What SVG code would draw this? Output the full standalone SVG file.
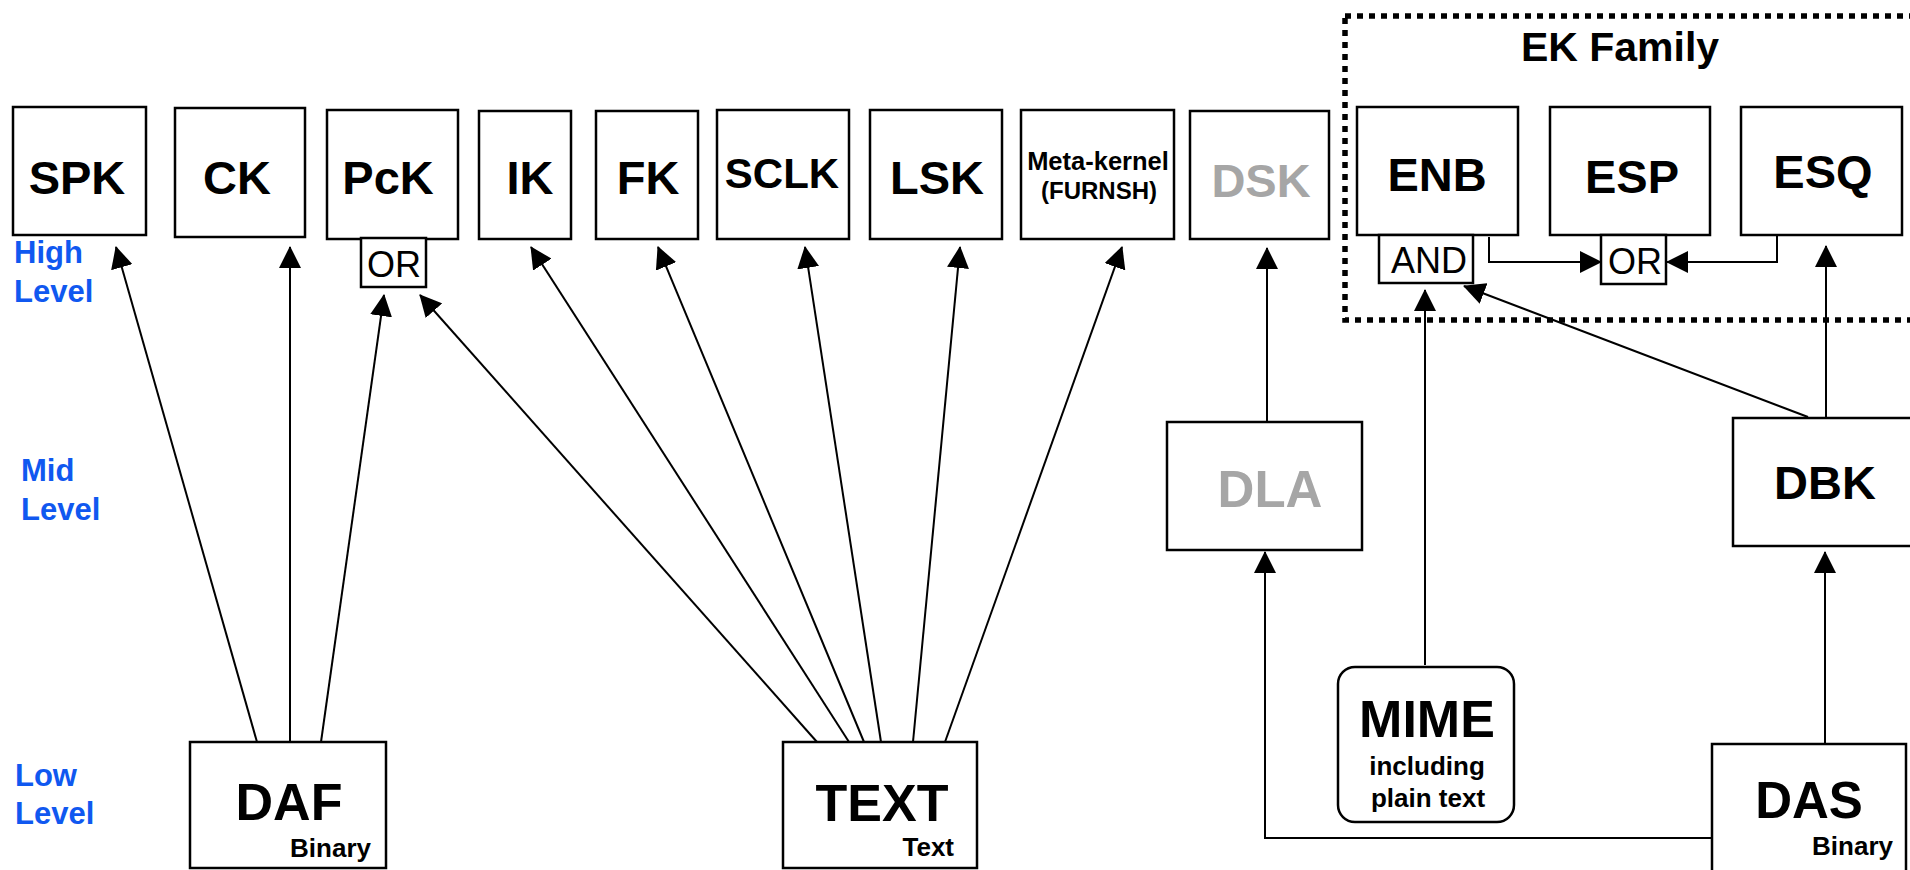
<svg xmlns="http://www.w3.org/2000/svg" width="1910" height="870" viewBox="0 0 1910 870">
<defs>
<marker id="arr" markerUnits="userSpaceOnUse" viewBox="0 0 22 22" refX="21" refY="11" markerWidth="22" markerHeight="22" orient="auto">
<path d="M0,0 L22,11 L0,22 z" fill="#000"/>
</marker>
<style>
text{font-family:"Liberation Sans",Arial,Helvetica,sans-serif;}
.box{fill:#fff;stroke:#000;stroke-width:2.5;}
.big{font-size:47px;font-weight:bold;text-anchor:middle;fill:#000;}
.low{font-size:52px;font-weight:bold;text-anchor:middle;fill:#000;}
.gray{fill:#a6a6a6;}
.sub{font-size:26px;font-weight:bold;text-anchor:end;fill:#000;}
.op{font-size:36px;text-anchor:middle;fill:#000;}
.lvl{font-size:31px;font-weight:bold;fill:#1058f0;}
.c{fill:none;stroke:#000;stroke-width:2;marker-end:url(#arr);}
.cn{fill:none;stroke:#000;stroke-width:2;}
</style>
</defs>
<rect width="1910" height="870" fill="#fff"/>

<g id="levels">
<text class="lvl" x="14" y="263">High</text>
<text class="lvl" x="14" y="302">Level</text>
<text class="lvl" x="21" y="481">Mid</text>
<text class="lvl" x="21" y="520">Level</text>
<text class="lvl" x="15" y="786">Low</text>
<text class="lvl" x="15" y="824">Level</text>
</g>

<g id="ek-family">
<rect x="1345" y="16" width="600" height="304" fill="none" stroke="#000" stroke-width="5.5" stroke-dasharray="6 6"/>
<text x="1620" y="61" style="font-size:41px;font-weight:bold;text-anchor:middle">EK Family</text>
</g>

<g id="connectors">
<line class="c" x1="257" y1="742" x2="116" y2="247"/>
<line class="c" x1="290" y1="742" x2="290" y2="247"/>
<line class="c" x1="321" y1="742" x2="384" y2="295"/>
<line class="c" x1="817" y1="742" x2="420" y2="295"/>
<line class="c" x1="849" y1="742" x2="531" y2="247"/>
<line class="c" x1="864" y1="742" x2="658" y2="247"/>
<line class="c" x1="881" y1="742" x2="805" y2="247"/>
<line class="c" x1="913" y1="742" x2="960" y2="247"/>
<line class="c" x1="945" y1="742" x2="1122" y2="247"/>
<line class="c" x1="1267" y1="422" x2="1267" y2="248"/>
<line class="c" x1="1425" y1="665" x2="1425" y2="290"/>
<line class="c" x1="1808" y1="417" x2="1464" y2="286"/>
<line class="c" x1="1826" y1="417" x2="1826" y2="246"/>
<line class="c" x1="1825" y1="743" x2="1825" y2="552"/>
<polyline class="c" points="1712,838 1265,838 1265,552"/>
<polyline class="c" points="1489,237 1489,262 1601,262"/>
<polyline class="c" points="1777,235 1777,262 1667,262"/>
</g>

<g id="node-spk"><rect class="box" x="13" y="107" width="133" height="128"/><text class="big" x="77" y="194">SPK</text></g>
<g id="node-ck"><rect class="box" x="175" y="108" width="130" height="129"/><text class="big" x="237" y="194">CK</text></g>
<g id="node-pck"><rect class="box" x="327" y="110" width="131" height="129"/><text class="big" x="388" y="194">PcK</text></g>
<g id="node-pck-or"><rect class="box" x="361" y="238" width="65" height="49"/><text class="op" x="394" y="277">OR</text></g>
<g id="node-ik"><rect class="box" x="479" y="111" width="92" height="128"/><text class="big" x="530" y="194">IK</text></g>
<g id="node-fk"><rect class="box" x="596" y="111" width="102" height="128"/><text class="big" x="648" y="194">FK</text></g>
<g id="node-sclk"><rect class="box" x="717" y="110" width="132" height="129"/><text class="big" x="782" y="188" style="font-size:42px">SCLK</text></g>
<g id="node-lsk"><rect class="box" x="870" y="110" width="132" height="129"/><text class="big" x="937" y="194">LSK</text></g>
<g id="node-meta"><rect class="box" x="1021" y="110" width="153" height="129"/><text class="big" x="1098" y="170" style="font-size:25.5px">Meta-kernel</text><text class="big" x="1099" y="199" style="font-size:24px">(FURNSH)</text></g>
<g id="node-dsk"><rect class="box" x="1190" y="111" width="139" height="128"/><text class="big gray" x="1261" y="197">DSK</text></g>
<g id="node-enb"><rect class="box" x="1357" y="107" width="161" height="128"/><text class="big" x="1437" y="191">ENB</text></g>
<g id="node-and"><rect class="box" x="1379" y="235" width="94" height="48"/><text class="op" x="1429" y="273">AND</text></g>
<g id="node-esp"><rect class="box" x="1550" y="107" width="160" height="128"/><text class="big" x="1632" y="193">ESP</text></g>
<g id="node-ek-or"><rect class="box" x="1601" y="235" width="65" height="49"/><text class="op" x="1635" y="274">OR</text></g>
<g id="node-esq"><rect class="box" x="1741" y="107" width="161" height="128"/><text class="big" x="1823" y="188">ESQ</text></g>
<g id="node-dla"><rect class="box" x="1167" y="422" width="195" height="128"/><text class="big gray" x="1270" y="507" style="font-size:51px">DLA</text></g>
<g id="node-dbk"><rect class="box" x="1733" y="418" width="184" height="128"/><text class="big" x="1825" y="499">DBK</text></g>
<g id="node-mime"><rect class="box" x="1338" y="667" width="176" height="155" rx="17" ry="17"/><text class="low" x="1427" y="737">MIME</text><text class="sub" x="1427" y="775" style="text-anchor:middle">including</text><text class="sub" x="1428" y="807" style="text-anchor:middle">plain text</text></g>
<g id="node-daf"><rect class="box" x="190" y="742" width="196" height="126"/><text class="low" x="289" y="820">DAF</text><text class="sub" x="371" y="857">Binary</text></g>
<g id="node-text"><rect class="box" x="783" y="742" width="194" height="126"/><text class="low" x="882" y="821">TEXT</text><text class="sub" x="954" y="856">Text</text></g>
<g id="node-das"><rect class="box" x="1712" y="744" width="194" height="140"/><text class="low" x="1809" y="818" style="font-size:51px">DAS</text><text class="sub" x="1893" y="855">Binary</text></g>
</svg>
